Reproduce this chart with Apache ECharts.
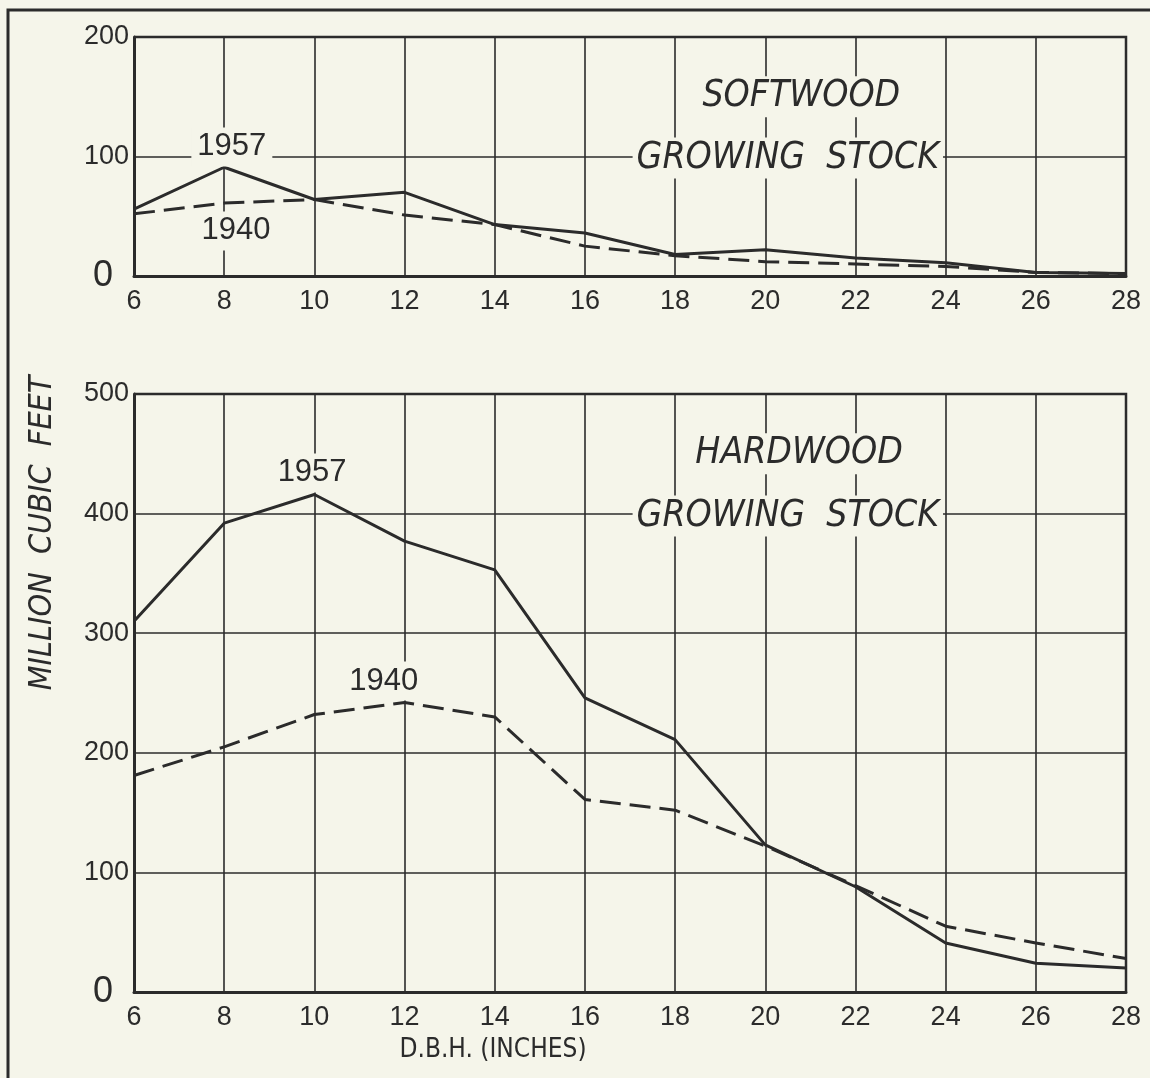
<!DOCTYPE html>
<html><head><meta charset="utf-8">
<script src="https://cdn.jsdelivr.net/npm/echarts@6/dist/echarts.min.js"></script>
<style>html,body{margin:0;padding:0;background:#f5f5ea;}#c{width:1150px;height:1078px;}</style>
</head><body><div id="c"></div>
<script>
var dbh = [6, 8, 10, 12, 14, 16, 18, 20, 22, 24, 26, 28];
var soft1957 = [56, 91, 64, 70, 43, 36, 18, 22, 15, 11, 3, 2];
var soft1940 = [52, 61, 64, 51, 43, 25, 17, 12, 10, 8, 3, 2];
var hard1957 = [310, 392, 416, 377, 353, 246, 211, 123, 88, 41, 24, 20];
var hard1940 = [181, 205, 232, 242, 230, 161, 152, 122, 89, 55, 41, 28];
var softTicks = [0, 100, 200];
var hardTicks = [0, 100, 200, 300, 400, 500];

var INK = '#2b2b2b';
var BG = '#f5f5ea';
var NUMFONT = '"Liberation Sans", Arial, sans-serif';
var NARROW = '"Liberation Sans Narrow", "DejaVu Sans Condensed", "Liberation Sans", sans-serif';

function pairs(xs, ys) { return xs.map(function (x, i) { return [x, ys[i]]; }); }

var chart = echarts.init(document.getElementById('c'), null, {renderer: 'canvas'});

function xAxisCfg(gi) {
  return {
    type: 'value', gridIndex: gi, min: 6, max: 28, interval: 2,
    axisLine: {show: true, onZero: false, lineStyle: {color: INK, width: 3}},
    axisTick: {show: false},
    splitLine: {show: true, lineStyle: {color: INK, width: 1.6}},
    axisLabel: {color: INK, fontFamily: NUMFONT, fontSize: 27, margin: 12}
  };
}
function yAxisCfg(gi, max) {
  return {
    type: 'value', gridIndex: gi, min: 0, max: max, interval: 100,
    axisLine: {show: true, lineStyle: {color: INK, width: 3}},
    axisTick: {show: false},
    splitLine: {show: true, lineStyle: {color: INK, width: 1.6}},
    axisLabel: {
      color: INK, fontFamily: NUMFONT, fontSize: 27, margin: 5,
      formatter: function (v) { return v === 0 ? '{z|0}' : String(v); },
      rich: {z: {fontFamily: NUMFONT, fontSize: 36, color: INK, padding: [0, 16, 0, 0]}}
    }
  };
}
function line(name, gi, ys, dashed) {
  return {
    name: name, type: 'line', xAxisIndex: gi, yAxisIndex: gi,
    data: pairs(dbh, ys), showSymbol: false, symbol: 'none', animation: false,
    lineStyle: {color: INK, width: 3, type: dashed ? [21, 9] : 'solid'},
    z: 3
  };
}

chart.setOption({
  backgroundColor: BG,
  animation: false,
  grid: [
    {left: 134, right: 24, top: 37, bottom: 802, show: false},
    {left: 134, right: 24, top: 394, bottom: 86, show: false}
  ],
  xAxis: [xAxisCfg(0), xAxisCfg(1)],
  yAxis: [yAxisCfg(0, 200), yAxisCfg(1, 500)],
  series: [
    line('Softwood 1957', 0, soft1957, false),
    line('Softwood 1940', 0, soft1940, true),
    line('Hardwood 1957', 1, hard1957, false),
    line('Hardwood 1940', 1, hard1940, true)
  ]
});

function px(gi, x, y) { return chart.convertToPixel({gridIndex: gi}, [x, y]); }

function label(gi, x, y, text, opts) {
  var p = px(gi, x, y);
  opts = opts || {};
  return {
    type: 'text', x: p[0], y: p[1], z: 10,
    style: {
      text: text, fill: INK, align: 'center', verticalAlign: 'middle',
      font: (opts.italic ? 'italic ' : '') + (opts.size || 31) + 'px ' + (opts.family || NUMFONT),
      backgroundColor: BG, padding: opts.pad || [4, 6, 4, 6]
    }
  };
}

var tl = px(0, 6, 200), br = px(0, 28, 0);
var tl2 = px(1, 6, 500), br2 = px(1, 28, 0);

chart.setOption({
  graphic: [
    {type: 'polyline', z: 2, shape: {points: [[tl[0], tl[1]], [br[0], tl[1]], [br[0], br[1]]]}, style: {stroke: INK, lineWidth: 2.5, fill: null}},
    {type: 'polyline', z: 2, shape: {points: [[tl2[0], tl2[1]], [br2[0], tl2[1]], [br2[0], br2[1]]]}, style: {stroke: INK, lineWidth: 2.5, fill: null}},
    {type: 'polyline', z: 2, shape: {points: [[8, 1078], [8, 10], [1150, 10]]}, style: {stroke: INK, lineWidth: 3, fill: null}},
    label(0, 8.17, 108, '1957'),
    label(0, 8.26, 37.7, '1940'),
    label(0, 20.8, 150, 'SOFTWOOD', {italic: true, size: 37, family: NARROW, pad: [2, 8, 2, 8]}),
    label(0, 20.5, 98.7, 'GROWING  STOCK', {italic: true, size: 37, family: NARROW, pad: [2, 4, 2, 4]}),
    label(1, 9.95, 434, '1957'),
    label(1, 11.54, 260, '1940'),
    label(1, 20.75, 450, 'HARDWOOD', {italic: true, size: 37, family: NARROW, pad: [2, 8, 2, 8]}),
    label(1, 20.5, 398, 'GROWING  STOCK', {italic: true, size: 37, family: NARROW, pad: [2, 4, 2, 4]}),
    {type: 'text', x: 43, y: 533, rotation: Math.PI / 2, z: 10,
      style: {text: 'MILLION  CUBIC  FEET', fill: INK, align: 'center', verticalAlign: 'middle',
        font: 'italic 32px ' + NARROW}},
    {type: 'text', x: 493, y: 1050, z: 10,
      style: {text: 'D.B.H. (INCHES)', fill: INK, align: 'center', verticalAlign: 'middle',
        font: '26px ' + NARROW}}
  ]
});
</script>
</body></html>
